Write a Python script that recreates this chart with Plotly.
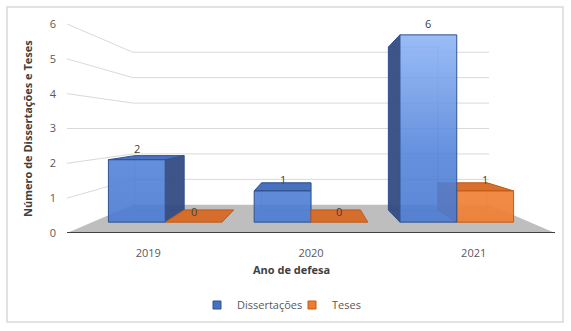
import plotly.graph_objects as go

# ---------------- data ----------------
years = ["2019", "2020", "2021"]
dissertacoes = [2, 1, 6]
teses = [0, 0, 1]
series_names = ["Dissertações", "Teses"]
y_ticks = [0, 1, 2, 3, 4, 5, 6]
x_title = "Ano de defesa"
y_title = "Número de Dissertações e Teses"

# ---------------- view geometry (perspective of the 3-D column chart) ----------------
VP_X, VP_Y = 1.0, 3.0          # vanishing point in axis units
S_FRONT, S_BACK, S_WALL = 0.896, 0.78, 0.73
BAR_W = 0.39
X_MIN, X_MAX = -0.5, 2.5
FONT = "Open Sans"


def proj(x, v, s):
    return VP_X + s * (x - VP_X), VP_Y + s * (v - VP_Y)


def poly(pts):
    xy = [proj(*p) for p in pts]
    xs = [p[0] for p in xy] + [xy[0][0]]
    ys = [p[1] for p in xy] + [xy[0][1]]
    return xs, ys


styles = {
    "Dissertações": dict(
        front=[[0, "rgba(74,122,210,0.90)"], [0.35, "rgba(82,131,217,0.90)"], [1, "rgba(143,181,245,0.90)"]],
        side="rgba(46,72,128,0.93)", top="rgba(63,105,186,0.95)", edge="#2F528F", legend="#4472C4"),
    "Teses": dict(
        front=[[0, "rgba(238,128,53,0.95)"], [1, "rgba(246,160,95,0.95)"]],
        side="rgba(198,95,34,0.95)", top="rgba(214,107,40,0.97)", edge="#C55A11", legend="#ED7D31"),
}

fig = go.Figure()

# floor
fx, fy = poly([(X_MIN, 0, 1), (X_MAX, 0, 1), (X_MAX, 0, S_WALL), (X_MIN, 0, S_WALL)])
fig.add_trace(go.Scatter(x=fx, y=fy, fill="toself", fillcolor="#BEBEBE", mode="none",
                         hoverinfo="skip", showlegend=False))

# gridlines on the left and back walls
for v in y_ticks[1:]:
    p0 = proj(X_MIN, v, 1)
    p1 = proj(X_MIN, v, S_WALL)
    p2 = proj(X_MAX, v, S_WALL)
    fig.add_trace(go.Scatter(x=[p0[0], p1[0], p2[0]], y=[p0[1], p1[1], p2[1]], mode="lines",
                             line=dict(color="#D9D9D9", width=1), hoverinfo="skip", showlegend=False))

# front axis line
a0 = proj(X_MIN, 0, 1)
a1 = proj(X_MAX, 0, 1)
fig.add_trace(go.Scatter(x=[a0[0], a1[0]], y=[a0[1], a1[1]], mode="lines",
                         line=dict(color="#404040", width=2), hoverinfo="skip", showlegend=False))


def add_box(x0, x1, v, st):
    sF, sB = S_FRONT, S_BACK
    # back outline (seen through the glass)
    bx, by = poly([(x0, 0, sB), (x1, 0, sB), (x1, v, sB), (x0, v, sB)])
    fig.add_trace(go.Scatter(x=bx, y=by, mode="lines", line=dict(color=st["edge"], width=0.6),
                             opacity=0.5, hoverinfo="skip", showlegend=False))
    # side faces
    if x1 < VP_X and v > 0:
        sx, sy = poly([(x1, 0, sF), (x1, 0, sB), (x1, v, sB), (x1, v, sF)])
        fig.add_trace(go.Scatter(x=sx, y=sy, fill="toself", fillcolor=st["side"], mode="lines",
                                 line=dict(color=st["edge"], width=1), hoverinfo="skip", showlegend=False))
    if x0 > VP_X and v > 0:
        sx, sy = poly([(x0, 0, sF), (x0, 0, sB), (x0, v, sB), (x0, v, sF)])
        fig.add_trace(go.Scatter(x=sx, y=sy, fill="toself", fillcolor=st["side"], mode="lines",
                                 line=dict(color=st["edge"], width=1), hoverinfo="skip", showlegend=False))
    # top face
    if v < VP_Y:
        tx, ty = poly([(x0, v, sF), (x1, v, sF), (x1, v, sB), (x0, v, sB)])
        fig.add_trace(go.Scatter(x=tx, y=ty, fill="toself", fillcolor=st["top"], mode="lines",
                                 line=dict(color=st["edge"], width=1), hoverinfo="skip", showlegend=False))
    # front face
    if v > 0:
        qx, qy = poly([(x0, 0, sF), (x1, 0, sF), (x1, v, sF), (x0, v, sF)])
        base = proj(0, 0, sF)[1]
        top = proj(0, 6, sF)[1]
        fig.add_trace(go.Scatter(x=qx, y=qy, fill="toself", mode="lines",
                                 fillgradient=dict(type="vertical", start=base, stop=top, colorscale=st["front"]),
                                 line=dict(color=st["edge"], width=1), hoverinfo="skip", showlegend=False))
    cx, cy = proj((x0 + x1) / 2, v, sF)
    fig.add_annotation(x=cx, y=cy, text=str(v), showarrow=False, yshift=11,
                       font=dict(family=FONT, size=11, color="#404040"))


for i, yr in enumerate(years):
    boxes = [(i - BAR_W, i, dissertacoes[i], styles["Dissertações"]),
             (i, i + BAR_W, teses[i], styles["Teses"])]
    # paint the box farther from the vanishing column first
    boxes.sort(key=lambda b: -abs((b[0] + b[1]) / 2 - VP_X))
    for b in boxes:
        add_box(*b)

# legend entries
for name in series_names:
    fig.add_trace(go.Scatter(x=[None], y=[None], mode="markers", name=name,
                             marker=dict(symbol="square", size=8, color=styles[name]["legend"],
                                         line=dict(color=styles[name]["edge"], width=1))))

# ---------------- layout ----------------
L, R, T, B = 67, 16, 24, 98
W, H = 571, 331
pw, ph = W - L - R, H - T - B


def px_x(px):
    return (px - L) / pw


def px_y(py):
    return (H - B - py) / ph


fig.add_annotation(x=px_x(27), y=px_y(129), xref="paper", yref="paper", text=y_title, textangle=-90,
                   xanchor="center", yanchor="middle", showarrow=False,
                   font=dict(family=FONT, size=11, color="#404040", weight="bold"))
fig.add_annotation(x=px_x(291), y=px_y(269), xref="paper", yref="paper", text=x_title,
                   xanchor="center", yanchor="middle", showarrow=False,
                   font=dict(family=FONT, size=11, color="#404040", weight="bold"))
fig.add_shape(type="rect", xref="paper", yref="paper", x0=px_x(7), x1=px_x(563), y0=px_y(322), y1=px_y(7),
              line=dict(color="#D9D9D9", width=1.5), fillcolor="rgba(0,0,0,0)", layer="below")

fig.update_layout(
    width=W, height=H, margin=dict(l=L, r=R, t=T, b=B),
    paper_bgcolor="white", plot_bgcolor="white",
    font=dict(family=FONT, size=11, color="#595959"),
    showlegend=True,
    legend=dict(orientation="h", x=px_x(292), y=px_y(305), xanchor="center", yanchor="middle",
                font=dict(family=FONT, size=11, color="#595959"), itemwidth=30, bgcolor="rgba(0,0,0,0)",
                entrywidth=50, entrywidthmode="pixels"),
    xaxis=dict(range=[X_MIN, X_MAX], tickvals=[0, 1, 2], ticktext=years, showgrid=False, zeroline=False,
               showline=False, ticks="", ticklabelstandoff=12, fixedrange=True),
    yaxis=dict(range=[0, 6], tickvals=y_ticks, showgrid=False, zeroline=False, showline=False,
               ticks="", ticklabelstandoff=10, fixedrange=True),
)

fig.write_html("out.html")
